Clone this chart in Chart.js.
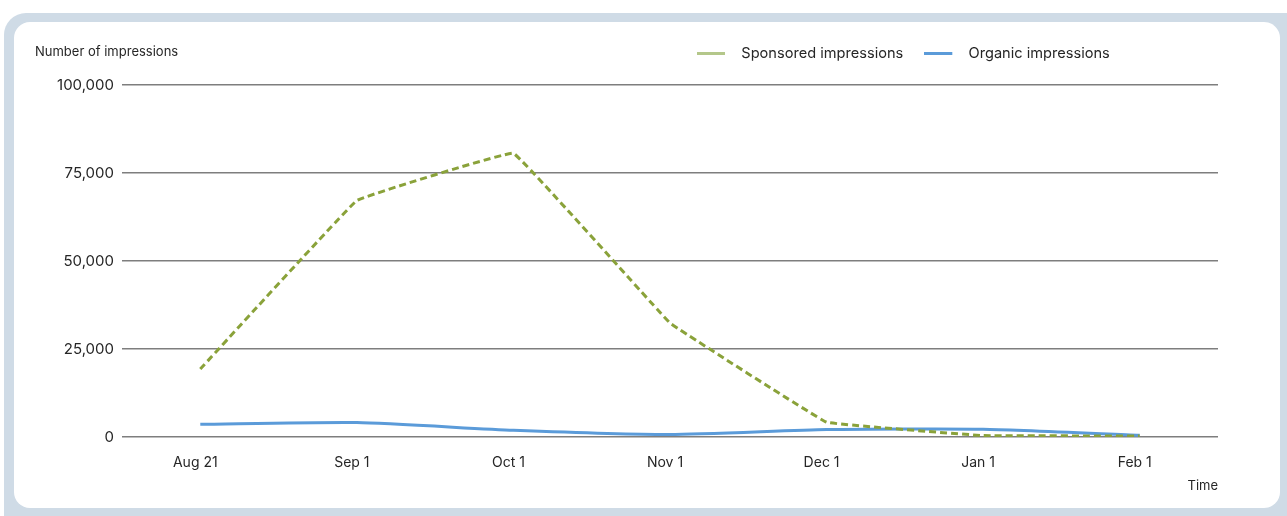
<!DOCTYPE html>
<html>
<head>
<meta charset="utf-8">
<script src="https://cdn.jsdelivr.net/npm/chart.js@4.4.1/dist/chart.umd.min.js"></script>
<style>
  html, body { margin: 0; padding: 0; background: #fff; }
  body { width: 1287px; height: 516px; position: relative; overflow: hidden; }
  .frame { position: absolute; left: 4px; top: 13px; width: 1310px; height: 530px; background: #cfdbe6; border-radius: 22px; }
  .card { position: absolute; left: 14px; top: 22px; width: 1266px; height: 486px; background: #fff; border-radius: 16px; }
  .wrap { position: absolute; left: 0; top: 0; width: 1287px; height: 516px; }
</style>
</head>
<body>
<div class="frame"></div>
<div class="card"></div>
<div class="wrap"><canvas id="chart" width="1287" height="516"></canvas></div>
<script>
// ============================= data

const categories = ['Aug 21', 'Sep 1', 'Oct 1', 'Nov 1', 'Dec 1', 'Jan 1', 'Feb 1']
const sponsored = [19300, 67200, 80600, 32400, 4200, 400, 300]
const organic = [3600, 4100, 1900, 700, 2100, 2200, 500]
const yTicks = [0, 25000, 50000, 75000, 100000]

const GREEN = '#8aa23a'
const GREEN_LEGEND = '#b4c78a'
const BLUE = '#5b9bd9'
const TEXT = '#262626'

Chart.defaults.font.family = 'Inter, "Noto Sans", sans-serif'
Chart.defaults.color = TEXT

// small canvas used as the legend line sample (line + gap before text)
const legendSample = (color) => {
    const c = document.createElement('canvas')
    c.width = 37
    c.height = 3
    const ctx = c.getContext('2d')
    ctx.fillStyle = color
    ctx.fillRect(0, 0, 28, 3)
    return c
}

// ============================= extra texts + legend placement

const extras = {
    id: 'extras',
    afterInit: (chart) => {
        const lg = chart.legend
        const fit = lg.fit.bind(lg)
        lg.fit = () => { fit(); lg.height = 85 } // plot area starts at y = 85
    },
    beforeDraw: (chart) => {
        const lg = chart.legend
        const pad = lg.options.labels.padding
        const w = lg.right - lg.left
        lg.left = 697 - pad
        lg.right = lg.left + w
        lg.top = 53 - pad - 7
    },
    afterDraw: (chart) => {
        const ctx = chart.ctx
        ctx.save()
        ctx.font = '13px Inter, "Noto Sans", sans-serif'
        ctx.fillStyle = TEXT
        ctx.textBaseline = 'middle'
        ctx.textAlign = 'left'
        ctx.fillText('Number of impressions', 35, 52)
        ctx.restore()
    }
}

new Chart(document.getElementById('chart'), {
    type: 'line',
    data: {
        labels: categories,
        datasets: [{
            label: 'Sponsored impressions',
            data: sponsored,
            borderColor: GREEN,
            backgroundColor: GREEN_LEGEND,
            borderWidth: 3,
            borderDash: [7, 4],
            tension: 0.04,
            pointRadius: 0,
            fill: false
        }, {
            label: 'Organic impressions',
            data: organic,
            borderColor: BLUE,
            backgroundColor: BLUE,
            borderWidth: 3,
            tension: 0.2,
            pointRadius: 0,
            fill: false
        }]
    },
    options: {
        responsive: false,
        animation: false,
        layout: { padding: { left: 0, right: 69, top: 0, bottom: 0 } },
        plugins: {
            tooltip: { enabled: false },
            legend: {
                position: 'top',
                align: 'start',
                labels: {
                    padding: 21,
                    usePointStyle: true,
                    pointStyleWidth: 37,
                    font: { size: 14.6 },
                    color: TEXT,
                    generateLabels: (chart) => chart.data.datasets.map((ds, i) => ({
                        text: ds.label,
                        datasetIndex: i,
                        fillStyle: ds.backgroundColor,
                        strokeStyle: ds.backgroundColor,
                        lineWidth: 0,
                        fontColor: TEXT,
                        pointStyle: legendSample(ds.backgroundColor)
                    }))
                }
            }
        },
        scales: {
            x: {
                offset: true,
                grid: { display: false, drawTicks: false },
                border: { display: false },
                ticks: { padding: 17, labelOffset: -5, font: { size: 14 }, color: TEXT },
                title: {
                    display: true,
                    text: 'Time',
                    align: 'end',
                    color: TEXT,
                    font: { size: 13 },
                    padding: { top: 4, bottom: 22 }
                },
                afterFit: (scale) => { scale.height = 79 }
            },
            y: {
                min: 0,
                max: 100000,
                afterBuildTicks: (scale) => { scale.ticks = yTicks.map(v => ({ value: v })) },
                grid: { color: '#7e7e7e', lineWidth: 1.5, drawTicks: false },
                border: { display: false },
                ticks: {
                    padding: 8,
                    font: { size: 15 },
                    color: TEXT,
                    callback: (v) => v.toLocaleString('en-US')
                },
                afterFit: (scale) => { scale.width = 122 }
            }
        }
    },
    plugins: [extras]
})
</script>
</body>
</html>
